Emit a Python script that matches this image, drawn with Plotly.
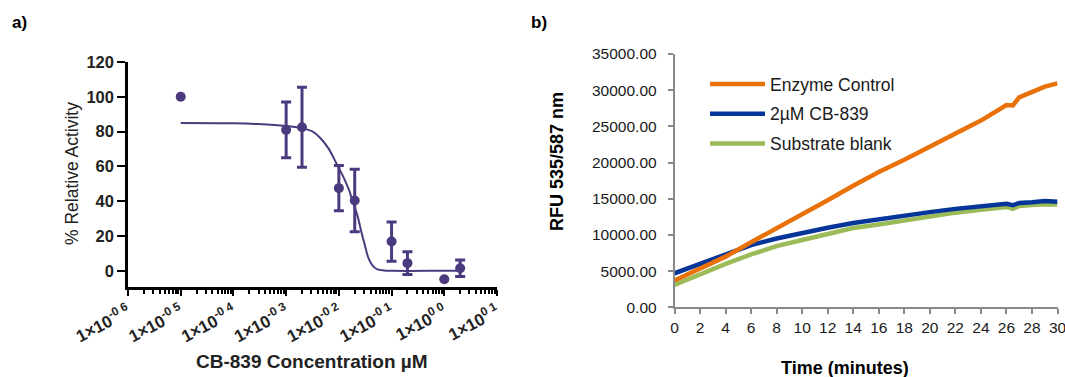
import plotly.graph_objects as go

# ---------------- Panel a) data ----------------
conc_err = [1e-3, 2e-3, 1e-2, 2e-2, 1e-1, 2e-1, 2]
act_err = [81, 82.5, 47.5, 40.4, 16.8, 4.4, 1.5]
sd_err = [16, 23, 13, 18, 11.3, 6.5, 4.7]
conc_noerr = [1e-5, 1]
act_noerr = [100, -4.8]

# fitted curve
curve_conc = [1e-5, 1e-4, 3e-4, 1e-3, 2e-3, 3.2e-3, 4.4e-3, 6.3e-3, 8.9e-3, 1.26e-2,
              1.58e-2, 1.82e-2, 2.24e-2, 2.69e-2, 3.16e-2, 3.63e-2, 4.37e-2, 5.25e-2,
              7.1e-2, 1e-1, 1, 2]
curve_act = [85, 84.8, 84.3, 83.2, 82, 80, 76.5, 70.5, 62, 53,
             46, 40, 32, 22, 14, 7.5, 3, 1,
             0.2, 0, 0, 0]

decade_vals = [1e-6, 1e-5, 1e-4, 1e-3, 1e-2, 1e-1, 1e0, 1e1]
decade_text = ["1×10<sup>-0 6</sup>", "1×10<sup>-0 5</sup>", "1×10<sup>-0 4</sup>",
               "1×10<sup>-0 3</sup>", "1×10<sup>-0 2</sup>", "1×10<sup>-0 1</sup>",
               "1×10<sup>0 0</sup>", "1×10<sup>0 1</sup>"]

# ---------------- Panel b) data ----------------
time_min = [0, 2, 4, 6, 8, 10, 12, 14, 16, 18, 20, 22, 24, 26, 26.5, 27, 28, 29, 30]
enzyme_control = [3700, 5300, 7000, 9000, 10900, 12750, 14800, 16800, 18700, 20400,
                  22200, 24100, 25800, 27950, 27900, 29000, 29700, 30500, 30950]
cb839_2uM = [4700, 6000, 7400, 8600, 9500, 10300, 11000, 11650, 12200, 12700,
             13150, 13600, 13990, 14300, 14100, 14420, 14530, 14700, 14600]
substrate_blank = [3100, 4600, 6000, 7300, 8450, 9300, 10200, 10950, 11450, 12020,
                   12550, 13080, 13470, 13870, 13600, 14000, 14120, 14250, 14200]

PURPLE = "#4B3B7E"
ORANGE = "#E8710A"
BLUE = "#06359A"
GREEN = "#9BBB59"
AXGRAY = "#898989"
FONT = "Liberation Sans, Arial, sans-serif"

W, H = 1065, 377

fig = go.Figure()

# panel a traces
fig.add_trace(go.Scatter(x=curve_conc, y=curve_act, mode="lines", line=dict(color=PURPLE, width=2, shape="spline"),
                         xaxis="x", yaxis="y", showlegend=False, hoverinfo="skip"))
fig.add_trace(go.Scatter(x=conc_err, y=act_err, mode="markers",
                         marker=dict(color=PURPLE, size=10),
                         error_y=dict(type="data", array=sd_err, color=PURPLE, thickness=3, width=5),
                         xaxis="x", yaxis="y", showlegend=False, cliponaxis=False))
fig.add_trace(go.Scatter(x=conc_noerr, y=act_noerr, mode="markers",
                         marker=dict(color=PURPLE, size=10),
                         xaxis="x", yaxis="y", showlegend=False, cliponaxis=False))

# panel b traces (draw order green, blue, orange)
fig.add_trace(go.Scatter(x=time_min, y=substrate_blank, mode="lines", name="Substrate blank",
                         legendgroup="g3", line=dict(color=GREEN, width=4.5), legendrank=3,
                         xaxis="x2", yaxis="y2"))
fig.add_trace(go.Scatter(x=time_min, y=cb839_2uM, mode="lines", name="2µM CB-839",
                         legendgroup="g2", line=dict(color=BLUE, width=4.5), legendrank=2,
                         xaxis="x2", yaxis="y2"))
fig.add_trace(go.Scatter(x=time_min, y=enzyme_control, mode="lines", name="Enzyme Control",
                         legendgroup="g1", line=dict(color=ORANGE, width=4.5), legendrank=1,
                         xaxis="x2", yaxis="y2"))

minor_vals = [m * d for d in decade_vals[:-1] for m in range(2, 10)]


def ann(text, x, y, size, color="black", angle=0):
    return dict(text=text, x=x / W, y=1 - y / H, xref="paper", yref="paper",
                xanchor="center", yanchor="middle", textangle=angle, showarrow=False,
                font=dict(size=size, family=FONT, color=color))


fig.update_layout(
    width=W, height=H, autosize=False,
    margin=dict(l=0, r=0, t=0, b=0, pad=0, autoexpand=False),
    paper_bgcolor="white", plot_bgcolor="white",
    font=dict(family=FONT, color="#1a1a1a"),
    xaxis=dict(type="log", domain=[128 / W, 497 / W], range=[-6, 1], anchor="y", automargin=False,
               tickmode="array", tickvals=decade_vals, ticktext=decade_text, tickangle=-28,
               ticks="outside", ticklen=6, tickwidth=2, tickcolor="black",
               showline=True, linecolor="black", linewidth=2.5, showgrid=False, zeroline=False,
               tickfont=dict(size=17, family=FONT, color="#222", weight="bold"),
               minor=dict(tickmode="array", tickvals=minor_vals, ticks="outside", ticklen=4,
                          tickwidth=1.5, tickcolor="black", showgrid=False)),
    yaxis=dict(domain=[1 - 287 / H, 1 - 62 / H], range=[-9.3, 120], anchor="x", automargin=False,
               tickvals=[0, 20, 40, 60, 80, 100, 120], ticks="outside", ticklen=8, tickwidth=2,
               tickcolor="black", showline=True, linecolor="black", linewidth=2.5,
               showgrid=False, zeroline=False,
               tickfont=dict(size=16.5, family=FONT, color="#222", weight="bold")),
    xaxis2=dict(domain=[674.5 / W, 1057.5 / W], range=[0, 30], anchor="y2", automargin=False,
                tickmode="linear", tick0=0, dtick=2, ticks="outside", ticklen=5, tickwidth=1.5,
                tickcolor=AXGRAY, showline=True, linecolor=AXGRAY, linewidth=1.5,
                showgrid=False, zeroline=False, ticklabeloverflow="allow",
                tickfont=dict(size=15.5, family=FONT, color="#1a1a1a")),
    yaxis2=dict(domain=[1 - 307.3 / H, 1 - 54 / H], range=[0, 35000], anchor="x2", automargin=False,
                tickmode="linear", tick0=0, dtick=5000, tickformat=".2f",
                ticks="outside", ticklen=5, tickwidth=1.5, tickcolor=AXGRAY,
                showline=True, linecolor=AXGRAY, linewidth=1.5, showgrid=False, zeroline=False,
                ticklabelstandoff=8,
                tickfont=dict(size=15.5, family=FONT, color="#1a1a1a")),
    legend=dict(x=705 / W, y=1 - 66 / H, xanchor="left", yanchor="top",
                bgcolor="rgba(0,0,0,0)", borderwidth=0, itemwidth=55, tracegroupgap=4,
                font=dict(size=17.5, family=FONT, color="#1a1a1a")),
    annotations=[
        ann("<b>a)</b>", 19, 23, 17),
        ann("<b>b)</b>", 539, 23, 17),
        ann("% Relative Activity", 72, 173, 17.5, "#222", -90),
        ann("<b>CB-839 Concentration µM</b>", 312, 361, 19, "#222"),
        ann("<b>RFU 535/587 nm</b>", 557, 162, 18, "black", -90),
        ann("<b>Time (minutes)</b>", 845, 368, 18, "black"),
    ],
)

fig.write_html("out.html", config={"responsive": False, "displayModeBar": False},
               post_script="document.body.style.margin='0';document.body.style.overflow='hidden';")
